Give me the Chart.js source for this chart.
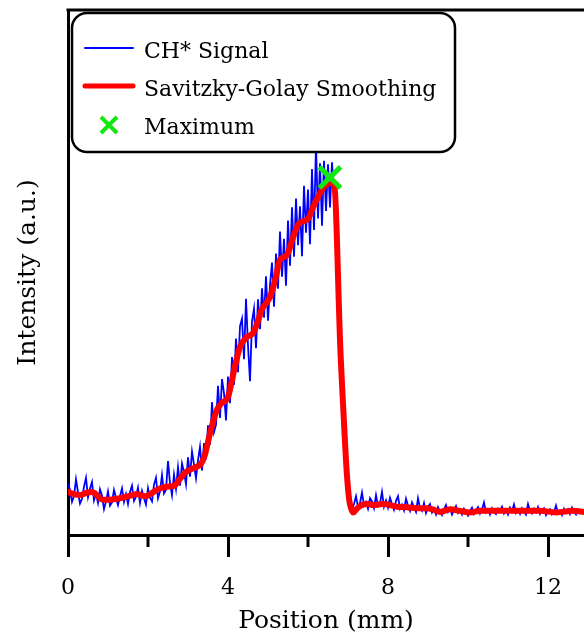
<!DOCTYPE html>
<html>
<head>
<meta charset="utf-8">
<script src="https://cdn.jsdelivr.net/npm/chart.js@4.4.1/dist/chart.umd.min.js"></script>
<style>
  html, body { margin: 0; padding: 0; background: #ffffff; }
  #wrap { width: 584px; height: 639px; }
</style>
</head>
<body>
<div id="wrap"><canvas id="c" width="584" height="639"></canvas></div>
<script>
// ---------------- data ----------------
const seriesLabels = ['CH* Signal', 'Savitzky-Golay Smoothing', 'Maximum'];
const xTickValues = [0, 4, 8, 12];
const xMinorTicks = [2, 6, 10];

// raw CH* signal, sampled every SIGNAL_STEP mm starting at 0
const SIGNAL_STEP = 0.05;
const signal = [
  9.8, 8.6, 6.3, 7.4, 10.6, 8.1, 6.0, 6.9, 9.2, 10.9,
  7.2, 8.8, 10.1, 6.6, 7.9, 6.1, 8.7, 7.5, 4.9, 6.4,
  8.3, 5.6, 6.2, 8.6, 7.1, 5.7, 7.4, 8.9, 6.3, 7.8,
  5.9, 8.2, 9.4, 6.5, 7.3, 9.0, 6.1, 8.4, 7.0, 5.8,
  8.9, 7.1, 6.4, 9.6, 10.9, 7.0, 8.3, 11.4, 7.9, 8.6,
  14.1, 9.9, 7.6, 11.5, 8.8, 12.9, 9.4, 13.6, 12.0, 9.7,
  14.8, 11.1, 15.9, 13.4, 10.8, 14.2, 16.8, 12.3, 17.5, 14.4,
  20.9, 17.2, 25.3, 19.6, 21.0, 28.4, 22.3, 29.7, 27.0, 21.8,
  30.2, 25.1, 33.9, 28.6, 37.4, 31.0, 39.8, 41.2, 33.5, 45.0,
  36.1, 29.3, 40.7, 43.1, 35.6, 44.9, 39.2, 47.0, 41.4, 49.3,
  40.8, 47.6, 51.9, 43.5, 53.6, 46.9, 57.8, 49.2, 56.4, 47.5,
  59.9, 51.3, 62.4, 53.0, 64.1, 55.2, 62.6, 53.1, 66.5, 57.6,
  65.8, 55.4, 69.7, 58.1, 74.4, 60.3, 70.8, 58.9, 71.3, 61.7,
  70.6, 62.4, 71.0, 64.2, 61.5, 48.5, 37.8, 28.5, 22.3, 14.0,
  9.8, 6.2, 4.9, 5.9, 7.4, 5.3, 6.1, 8.1, 5.6, 6.3,
  5.0, 7.0, 6.4, 5.1, 7.6, 5.5, 6.0, 8.2, 5.4, 6.6,
  5.2, 7.1, 5.9, 4.8, 6.5, 7.4, 5.0, 5.8, 4.7, 6.9,
  5.6, 4.6, 6.2, 5.3, 4.4, 7.0, 5.1, 4.6, 6.1, 4.2,
  5.4, 5.9, 4.3, 5.0, 3.9, 5.3, 4.5, 3.8, 4.9, 5.7,
  4.4, 5.1, 3.9, 4.7, 5.5, 4.2, 4.8, 3.9, 5.0, 4.5,
  3.7, 4.6, 5.2, 4.0, 4.7, 5.3, 4.1, 4.9, 6.2, 4.3,
  4.8, 3.9, 5.1, 4.4, 4.0, 5.0, 4.6, 5.4, 4.1, 4.7,
  3.9, 5.2, 4.5, 5.8, 4.2, 4.8, 4.0, 5.1, 4.4, 3.9,
  5.9, 4.6, 4.1, 5.0, 4.3, 5.3, 4.0, 4.7, 5.1, 3.8,
  4.5, 4.9, 3.9, 4.4, 5.6, 4.1, 4.6, 3.8, 5.0, 4.3,
  4.9, 4.0, 5.2, 4.4, 3.9, 4.8, 4.2, 4.7, 4.4
];

// Savitzky-Golay smoothed curve
const smoothX = [
  0.0, 0.15, 0.3, 0.45, 0.6, 0.72, 0.84, 1.0, 1.13, 1.3,
  1.47, 1.6, 1.72, 1.85, 1.95, 2.1, 2.22, 2.35, 2.47, 2.6,
  2.68, 2.76, 2.84, 2.97, 3.1, 3.22, 3.32, 3.42, 3.55, 3.72,
  3.84, 4.0, 4.17, 4.3, 4.47, 4.63, 4.76, 4.84, 5.05, 5.18,
  5.3, 5.47, 5.63, 5.76, 5.9, 6.0, 6.13, 6.3, 6.38, 6.5,
  6.59, 6.66, 6.72, 6.76, 6.8, 6.88, 6.97, 7.03, 7.08, 7.13,
  7.22, 7.34, 7.5, 7.63, 7.88, 8.22, 8.47, 8.8, 8.97, 9.15,
  9.3, 9.55, 9.8, 10.05, 10.3, 10.55, 11.0, 11.38, 11.8, 12.2,
  12.63, 12.9
];
const smoothY = [
  8.2, 7.8, 7.6, 8.0, 8.2, 7.6, 6.8, 6.7, 6.8, 7.0,
  7.3, 7.6, 7.8, 7.5, 7.4, 8.0, 8.6, 9.0, 9.2, 9.3,
  9.5, 10.3, 11.1, 12.1, 12.6, 13.0, 13.5, 15.2, 19.4, 23.8,
  25.1, 26.3, 32.0, 35.8, 37.7, 38.5, 41.0, 42.9, 45.3, 48.6,
  52.4, 53.3, 56.8, 59.2, 59.8, 60.2, 62.5, 65.1, 66.1, 66.9,
  67.1, 66.9, 57.1, 46.7, 37.1, 24.4, 11.8, 6.7, 5.0, 4.3,
  5.0, 5.7, 5.9, 5.7, 5.9, 5.4, 5.3, 5.1, 5.1, 4.8,
  4.4, 4.9, 4.6, 4.3, 4.6, 4.6, 4.6, 4.6, 4.6, 4.3,
  4.6, 4.4
];

// detected maximum
const maxPosition = [6.55];
const maxIntensity = [68.1];

// ---------------- chart ----------------
const FONT = 'DejaVu Serif';
const GREEN = '#14e614';

const signalData = signal.map((v, i) => ({ x: +(i * SIGNAL_STEP).toFixed(2), y: v }));
const smoothData = smoothX.map((x, i) => ({ x: x, y: smoothY[i] }));
const maxData = maxPosition.map((x, i) => ({ x: x, y: maxIntensity[i] }));

const framePlugin = {
  id: 'frame',
  afterDatasetsDraw(chart) {
    const { ctx, chartArea, scales } = chart;
    ctx.save();
    ctx.strokeStyle = '#000';
    ctx.lineWidth = 3;
    ctx.beginPath();
    ctx.moveTo(chartArea.left - 1.5, chartArea.top);
    ctx.lineTo(chartArea.right, chartArea.top);
    ctx.stroke();
    const xs = scales.x;
    xMinorTicks.forEach(v => {
      const px = Math.round(xs.getPixelForValue(v));
      ctx.beginPath();
      ctx.moveTo(px, chartArea.bottom);
      ctx.lineTo(px, chartArea.bottom + 12);
      ctx.stroke();
    });
    ctx.restore();
  },
  afterDraw(chart) {
    const { ctx } = chart;
    const box = { x: 72, y: 13, w: 383, h: 139, r: 15 };
    ctx.save();
    ctx.beginPath();
    ctx.roundRect(box.x, box.y, box.w, box.h, box.r);
    ctx.fillStyle = '#fff';
    ctx.fill();
    ctx.lineWidth = 2.5;
    ctx.strokeStyle = '#000';
    ctx.stroke();

    const rowsSample = [48, 86, 125];
    const rowsText = [58, 96, 134];
    const ds = chart.data.datasets;
    ctx.lineCap = 'round';
    ctx.strokeStyle = ds[0].borderColor;
    ctx.lineWidth = 2;
    ctx.beginPath(); ctx.moveTo(85, rowsSample[0]); ctx.lineTo(133, rowsSample[0]); ctx.stroke();
    ctx.strokeStyle = ds[1].borderColor;
    ctx.lineWidth = 5;
    ctx.beginPath(); ctx.moveTo(85, rowsSample[1]); ctx.lineTo(133, rowsSample[1]); ctx.stroke();
    ctx.lineCap = 'butt';
    ctx.strokeStyle = ds[2].borderColor;
    ctx.lineWidth = 4;
    const cx = 109, cy = rowsSample[2], a = 8;
    ctx.beginPath();
    ctx.moveTo(cx - a, cy - a); ctx.lineTo(cx + a, cy + a);
    ctx.moveTo(cx - a, cy + a); ctx.lineTo(cx + a, cy - a);
    ctx.stroke();
    ctx.fillStyle = '#000';
    ctx.font = '22px "' + FONT + '"';
    ctx.textBaseline = 'alphabetic';
    ctx.textAlign = 'left';
    ds.forEach((d, i) => ctx.fillText(d.label, 144, rowsText[i]));
    ctx.restore();
  }
};

new Chart(document.getElementById('c'), {
  type: 'line',
  data: {
    datasets: [
      {
        label: seriesLabels[0], data: signalData, borderColor: '#0000ff',
        borderWidth: 1.8, pointRadius: 0, tension: 0, order: 3
      },
      {
        label: seriesLabels[1], data: smoothData, borderColor: '#ff0000',
        borderWidth: 6, pointRadius: 0, cubicInterpolationMode: 'monotone',
        borderCapStyle: 'round', borderJoinStyle: 'round', order: 2
      },
      {
        label: seriesLabels[2], data: maxData, borderColor: GREEN, backgroundColor: GREEN,
        showLine: false, pointStyle: 'crossRot', pointRadius: 15, pointBorderWidth: 5,
        pointBorderColor: GREEN, order: 1
      }
    ]
  },
  options: {
    responsive: false,
    animation: false,
    layout: { autoPadding: false, padding: { top: 10, right: 0, left: 0, bottom: 0 } },
    plugins: { legend: { display: false }, tooltip: { enabled: false } },
    scales: {
      x: {
        type: 'linear', min: 0, max: 12.9,
        afterBuildTicks: s => { s.ticks = xTickValues.map(v => ({ value: v })); },
        afterFit: s => { s.height = 104; s.paddingLeft = 0; s.paddingRight = 0; },
        grid: { drawOnChartArea: false, drawTicks: true, tickLength: 22, tickWidth: 3, tickColor: '#000' },
        border: { display: true, color: '#000', width: 3 },
        ticks: { font: { family: FONT, size: 22 }, color: '#000', padding: 18, maxRotation: 0, autoSkip: false },
        title: { display: true, text: 'Position (mm)', color: '#000', font: { family: FONT, size: 25 }, padding: { top: 0, bottom: 3 } }
      },
      y: {
        min: 0, max: 100,
        afterFit: s => { s.width = 68; s.paddingTop = 0; s.paddingBottom = 0; },
        ticks: { display: false },
        grid: { display: false, drawTicks: false },
        border: { display: true, color: '#000', width: 3 },
        title: { display: true, text: 'Intensity (a.u.)', color: '#000', font: { family: FONT, size: 25 }, padding: { top: 13, bottom: 0 } }
      }
    }
  },
  plugins: [framePlugin]
});
</script>
</body>
</html>
